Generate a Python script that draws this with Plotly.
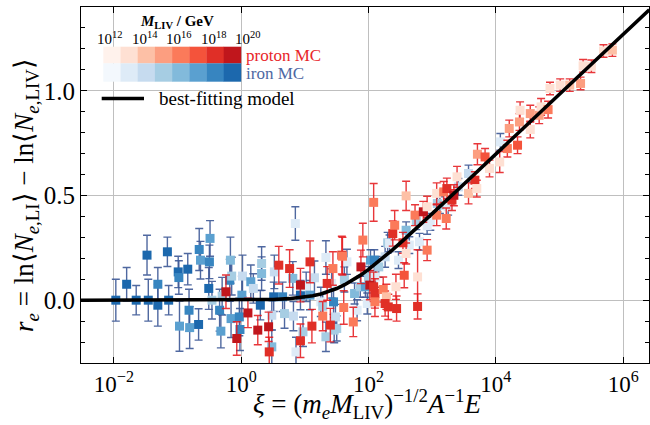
import plotly.graph_objects as go

# ---------------- data ----------------
# colour levels: index k = M_LIV bin 10^(12+k) .. 10^(13+k) GeV  (0 = lightest)
reds = ['#fff2ec', '#fee0d3', '#fdc0a6', '#fc9e80', '#fb7a5a', '#f4533b', '#e02f27', '#c0161c']
blues = ['#f3f8fd', '#deebf7', '#c6dbef', '#a6cde3', '#82badb', '#5aa0d0', '#3785c0', '#1c68ad']
cbar_tick_labels = ['10<sup>12</sup>', '10<sup>14</sup>', '10<sup>16</sup>', '10<sup>18</sup>', '10<sup>20</sup>']
x_tick_exponents = [-2, 0, 2, 4, 6]
x_tick_labels = ['10<sup>−2</sup>', '10<sup>0</sup>', '10<sup>2</sup>', '10<sup>4</sup>', '10<sup>6</sup>']
y_tick_values = [0.0, 0.5, 1.0]

iron_log10_xi = [-1.97, -1.80, -1.65, -1.48, -1.46, -1.31, -1.31, -1.16, -1.14, -0.99, -0.98, -0.97,
                 -0.84, -0.82, -0.81, -0.67, -0.66, -0.64, -0.51, -0.49, -0.50, -0.46, -0.34, -0.32,
                 -0.30, -0.17, -0.16, -0.18, -0.15, -0.03, -0.02, 0.02, 0.01, 0.15, 0.19, 0.30,
                 0.32, 0.32, 0.48, 0.48, 0.52, 0.51, 0.65, 0.68, 0.81, 0.82, 0.85, 0.86,
                 0.93, 0.97, 1.02, 1.08, 1.15, 1.25, 1.28, 1.33, 1.33, 1.42, 1.45, 1.46,
                 1.48, 1.50, 1.62, 1.66, 1.78, 1.82, 1.87, 1.95, 1.98, 2.00, 2.03, 2.09,
                 2.11, 2.16, 2.26, 2.30, 2.33, 2.47, 2.59, 2.64, 2.75, 2.80, 2.92, 2.97,
                 3.08, 3.12, 3.25, 3.41, 3.57, 4.07]
iron_r = [0.000, 0.076, 0.000, 0.215, 0.000, 0.076, -0.024, 0.231, 0.000, 0.135, 0.108, -0.124,
          0.148, -0.048, -0.131, -0.116, 0.242, 0.191, 0.056, 0.295, 0.183, 0.000, -0.048, -0.148,
          0.019, 0.191, -0.088, 0.095, 0.115, -0.080, -0.140, 0.115, 0.024, 0.088, 0.056, -0.024,
          0.175, 0.127, -0.072, -0.223, 0.135, 0.016, 0.016, -0.064, 0.104, -0.076, 0.366, -0.247,
          0.024, -0.151, 0.064, 0.024, 0.107, -0.008, -0.029, -0.175, 0.204, 0.080, -0.008, -0.143,
          -0.080, -0.135, 0.099, 0.183, 0.032, -0.048, 0.064, 0.064, -0.016, 0.111, 0.191, 0.191,
          0.111, 0.159, 0.207, 0.274, 0.271, 0.191, 0.334, 0.263, 0.377, 0.279, 0.355, 0.374,
          0.462, 0.454, 0.446, 0.541, 0.605, 0.756]
iron_err = [0.10, 0.08, 0.07, 0.095, 0.10, 0.08, 0.10, 0.07, 0.07, 0.075, 0.08, 0.12,
            0.075, 0.10, 0.10, 0.075, 0.10, 0.09, 0.10, 0.085, 0.08, 0.09, 0.10, 0.08,
            0.09, 0.11, 0.09, 0.10, 0.09, 0.09, 0.10, 0.10, 0.09, 0.08, 0.07, 0.07,
            0.08, 0.08, 0.07, 0.08, 0.08, 0.07, 0.07, 0.07, 0.08, 0.07, 0.08, 0.07,
            0.07, 0.07, 0.07, 0.07, 0.08, 0.07, 0.06, 0.07, 0.08, 0.07, 0.06, 0.06,
            0.06, 0.06, 0.06, 0.06, 0.05, 0.05, 0.05, 0.05, 0.05, 0.05, 0.05, 0.05,
            0.05, 0.05, 0.05, 0.05, 0.04, 0.04, 0.04, 0.04, 0.04, 0.04, 0.04, 0.04,
            0.04, 0.04, 0.04, 0.04, 0.04, 0.04]
iron_level = [7, 7, 7, 7, 7, 6, 7, 7, 7, 7, 6, 5,
              7, 6, 5, 7, 6, 5, 7, 5, 6, 3, 6, 5,
              3, 4, 5, 6, 3, 6, 6, 2, 5, 5, 2, 7,
              3, 4, 2, 4, 2, 7, 6, 3, 4, 2, 1, 1,
              7, 3, 1, 5, 2, 1, 3, 3, 1, 1, 6, 3,
              2, 3, 3, 1, 4, 1, 3, 5, 1, 3, 5, 6,
              1, 3, 2, 3, 1, 1, 4, 1, 3, 1, 1, 1,
              3, 3, 1, 2, 2, 1]

proton_log10_xi = [-0.24, -0.07, 0.105, 0.26, 0.43, 0.44, 0.59, 0.76, 0.93, 0.93, 1.08, 1.11,
                   1.28, 1.35, 1.40, 1.44, 1.58, 1.59, 1.61, 1.76, 1.88, 1.91, 2.02, 2.08,
                   2.10, 2.08, 2.10, 2.23, 2.28, 2.26, 2.31, 2.38, 2.41, 2.43, 2.44, 2.54,
                   2.56, 2.59, 2.59, 2.73, 2.77, 2.77, 2.86, 2.92, 2.92, 3.07, 3.07, 3.18,
                   3.22, 3.23, 3.31, 3.34, 3.39, 3.57, 3.67, 3.70, 3.71, 3.83, 3.90, 4.06,
                   4.18, 4.21, 4.34, 4.37, 4.38, 4.54, 4.54, 4.68, 4.71, 4.82, 4.85, 5.01,
                   5.16, 5.33, 5.37, 5.50, 5.69, 5.83]
proton_r = [0.040, -0.183, -0.061, -0.143, -0.127, -0.247, 0.167, 0.151, 0.072, -0.194, 0.183, -0.124,
            -0.076, 0.080, -0.119, 0.151, 0.215, 0.210, -0.035, -0.104, 0.159, 0.287, 0.072, 0.467,
            0.032, 0.064, -0.008, 0.051, 0.016, -0.016, -0.032, 0.318, 0.358, 0.064, -0.040, 0.274,
            0.119, 0.498, 0.223, 0.406, 0.111, -0.030, 0.422, 0.446, 0.239, 0.510, 0.406, 0.517,
            0.390, 0.533, 0.478, 0.501, 0.589, 0.510, 0.573, 0.533, 0.697, 0.684, 0.629, 0.660,
            0.724, 0.820, 0.740, 0.851, 0.907, 0.891, 0.815, 0.883, 0.923, 0.910, 1.011, 1.027,
            1.027, 1.035, 1.119, 1.117, 1.190, 1.194]
proton_err = [0.08, 0.08, 0.07, 0.07, 0.07, 0.07, 0.09, 0.09, 0.08, 0.08, 0.10, 0.08,
              0.07, 0.08, 0.08, 0.08, 0.09, 0.09, 0.08, 0.07, 0.08, 0.08, 0.07, 0.09,
              0.07, 0.07, 0.07, 0.06, 0.06, 0.06, 0.06, 0.06, 0.07, 0.06, 0.06, 0.05,
              0.06, 0.07, 0.05, 0.05, 0.13, 0.06, 0.05, 0.05, 0.05, 0.05, 0.05, 0.05,
              0.05, 0.05, 0.05, 0.05, 0.05, 0.05, 0.04, 0.04, 0.05, 0.04, 0.04, 0.05,
              0.04, 0.04, 0.04, 0.04, 0.04, 0.04, 0.04, 0.04, 0.04, 0.04, 0.03, 0.03,
              0.03, 0.03, 0.03, 0.03, 0.03, 0.03]
proton_level = [7, 7, 7, 7, 7, 6, 6, 6, 7, 6, 6, 6,
                4, 6, 6, 4, 6, 4, 4, 4, 7, 4, 7, 4,
                6, 6, 4, 4, 2, 6, 6, 6, 4, 1, 6, 6,
                5, 2, 1, 4, 1, 6, 7, 1, 4, 1, 4, 4,
                4, 6, 6, 7, 1, 2, 6, 1, 3, 5, 1, 1,
                4, 3, 5, 3, 1, 3, 1, 3, 1, 4, 1, 1,
                2, 3, 1, 1, 1, 2]

# best-fitting model
model_log10_xi = [-2.52, -1.0, 0.0, 0.5, 0.75, 1.0, 1.125, 1.25, 1.375, 1.5, 1.625, 1.75, 1.875,
                  2.0, 2.125, 2.25, 2.375, 2.5, 2.625, 2.75, 3.0, 3.5, 4.0, 5.0, 6.0, 6.41]
model_r = [0.0, 0.0, 0.0007, 0.0034, 0.0072, 0.0149, 0.0212, 0.0298, 0.0412, 0.0557, 0.0737, 0.0951,
           0.1196, 0.147, 0.1764, 0.208, 0.2404, 0.274, 0.308, 0.343, 0.413, 0.555, 0.698, 0.984,
           1.27, 1.387]

# ---------------- figure ----------------
FONT = 'Liberation Serif'
W, H = 650, 425
L, R, T, B = 81, 1, 7, 62
PW, PH = W - L - R, H - T - B


def px(xp):
    return (xp - L) / PW


def py(yp):
    return (H - B - yp) / PH


fig = go.Figure()

fig.add_trace(go.Scatter(
    x=[10 ** v for v in iron_log10_xi], y=iron_r, mode='markers',
    marker=dict(symbol='square', size=9, color=[blues[k] for k in iron_level], line=dict(width=0)),
    error_y=dict(type='data', array=iron_err, color='rgba(60,88,150,0.9)', thickness=1.4, width=4),
    showlegend=False, name='iron MC'))

fig.add_trace(go.Scatter(
    x=[10 ** v for v in proton_log10_xi], y=proton_r, mode='markers',
    marker=dict(symbol='square', size=9, color=[reds[k] for k in proton_level], line=dict(width=0)),
    error_y=dict(type='data', array=proton_err, color='rgba(228,20,24,0.85)', thickness=1.4, width=4),
    showlegend=False, name='proton MC'))

fig.add_trace(go.Scatter(
    x=[10 ** v for v in model_log10_xi], y=model_r, mode='lines',
    line=dict(color='black', width=3.6), showlegend=False, name='best-fitting model'))

axis_common = dict(showline=True, linecolor='black', linewidth=1.2, mirror='allticks',
                   ticks='inside', tickcolor='black', ticklen=6, showgrid=True,
                   gridcolor='#bfbfbf', gridwidth=1, zeroline=False)

fig.update_xaxes(type='log', range=[-2.517, 6.405],
                 tickvals=[10 ** e for e in x_tick_exponents], ticktext=x_tick_labels,
                 tickfont=dict(family=FONT, size=23, color='black'), **axis_common)
fig.update_yaxes(range=[-0.3, 1.4], tickvals=y_tick_values, tickformat='.1f',
                 tickfont=dict(family=FONT, size=25, color='black'),
                 minor=dict(dtick=0.1, tick0=0, ticks='inside', ticklen=3.5, tickcolor='black',
                            showgrid=False), **axis_common)

shapes = []
annotations = []
# legend colour table
cell_w = 17.2
x_start = 103.3
for k in range(8):
    x0 = x_start + k * cell_w
    shapes.append(dict(type='rect', xref='paper', yref='paper', x0=px(x0), x1=px(x0 + cell_w + 0.3),
                       y0=py(63.5), y1=py(46.7), fillcolor=reds[k], line=dict(width=0), layer='above'))
    shapes.append(dict(type='rect', xref='paper', yref='paper', x0=px(x0), x1=px(x0 + cell_w + 0.3),
                       y0=py(81.7), y1=py(63.3), fillcolor=blues[k], line=dict(width=0), layer='above'))
for i, lab in enumerate(cbar_tick_labels):
    annotations.append(dict(xref='paper', yref='paper', x=px(x_start + 2 * i * cell_w + 7), y=py(38.5),
                            text=lab, showarrow=False, xanchor='center', yanchor='middle',
                            font=dict(family=FONT, size=15, color='black')))
annotations.append(dict(xref='paper', yref='paper', x=px(177), y=py(22), showarrow=False,
                        text='<b><i>M</i><sub>LIV</sub> / GeV</b>', xanchor='center', yanchor='middle',
                        font=dict(family=FONT, size=15, color='black')))
annotations.append(dict(xref='paper', yref='paper', x=px(244), y=py(55), showarrow=False,
                        text='proton MC', xanchor='left', yanchor='middle',
                        font=dict(family=FONT, size=17, color='#e8262a')))
annotations.append(dict(xref='paper', yref='paper', x=px(244), y=py(73), showarrow=False,
                        text='iron MC', xanchor='left', yanchor='middle',
                        font=dict(family=FONT, size=17, color='#4d68a3')))
shapes.append(dict(type='line', xref='paper', yref='paper', x0=px(101.7), x1=px(144), y0=py(98.5),
                   y1=py(98.5), line=dict(color='black', width=3.6), layer='above'))
annotations.append(dict(xref='paper', yref='paper', x=px(157), y=py(99), showarrow=False,
                        text='best-fitting model', xanchor='left', yanchor='middle',
                        font=dict(family=FONT, size=19, color='black')))

# axis titles
annotations.append(dict(xref='paper', yref='paper', x=px(367), y=py(404), showarrow=False,
                        text='<i>ξ</i> = (<i>m</i><sub><i>e</i></sub><i>M</i><sub>LIV</sub>)<sup>−1/2</sup><i>A</i><sup>−1</sup><i>E</i>',
                        xanchor='center', yanchor='middle',
                        font=dict(family=FONT, size=27, color='black')))
annotations.append(dict(xref='paper', yref='paper', x=px(26), y=py(195), showarrow=False, textangle=-90,
                        text='<i>r</i><sub><i>e</i></sub> = ln⟨<i>N</i><sub><i>e</i>,LI</sub>⟩ − ln⟨<i>N</i><sub><i>e</i>,LIV</sub>⟩',
                        xanchor='center', yanchor='middle',
                        font=dict(family=FONT, size=27, color='black')))

fig.update_layout(width=W, height=H, margin=dict(l=L, r=R, t=T, b=B, autoexpand=False),
                  paper_bgcolor='white', plot_bgcolor='white', shapes=shapes, annotations=annotations,
                  showlegend=False)

fig.write_html('out.html')
